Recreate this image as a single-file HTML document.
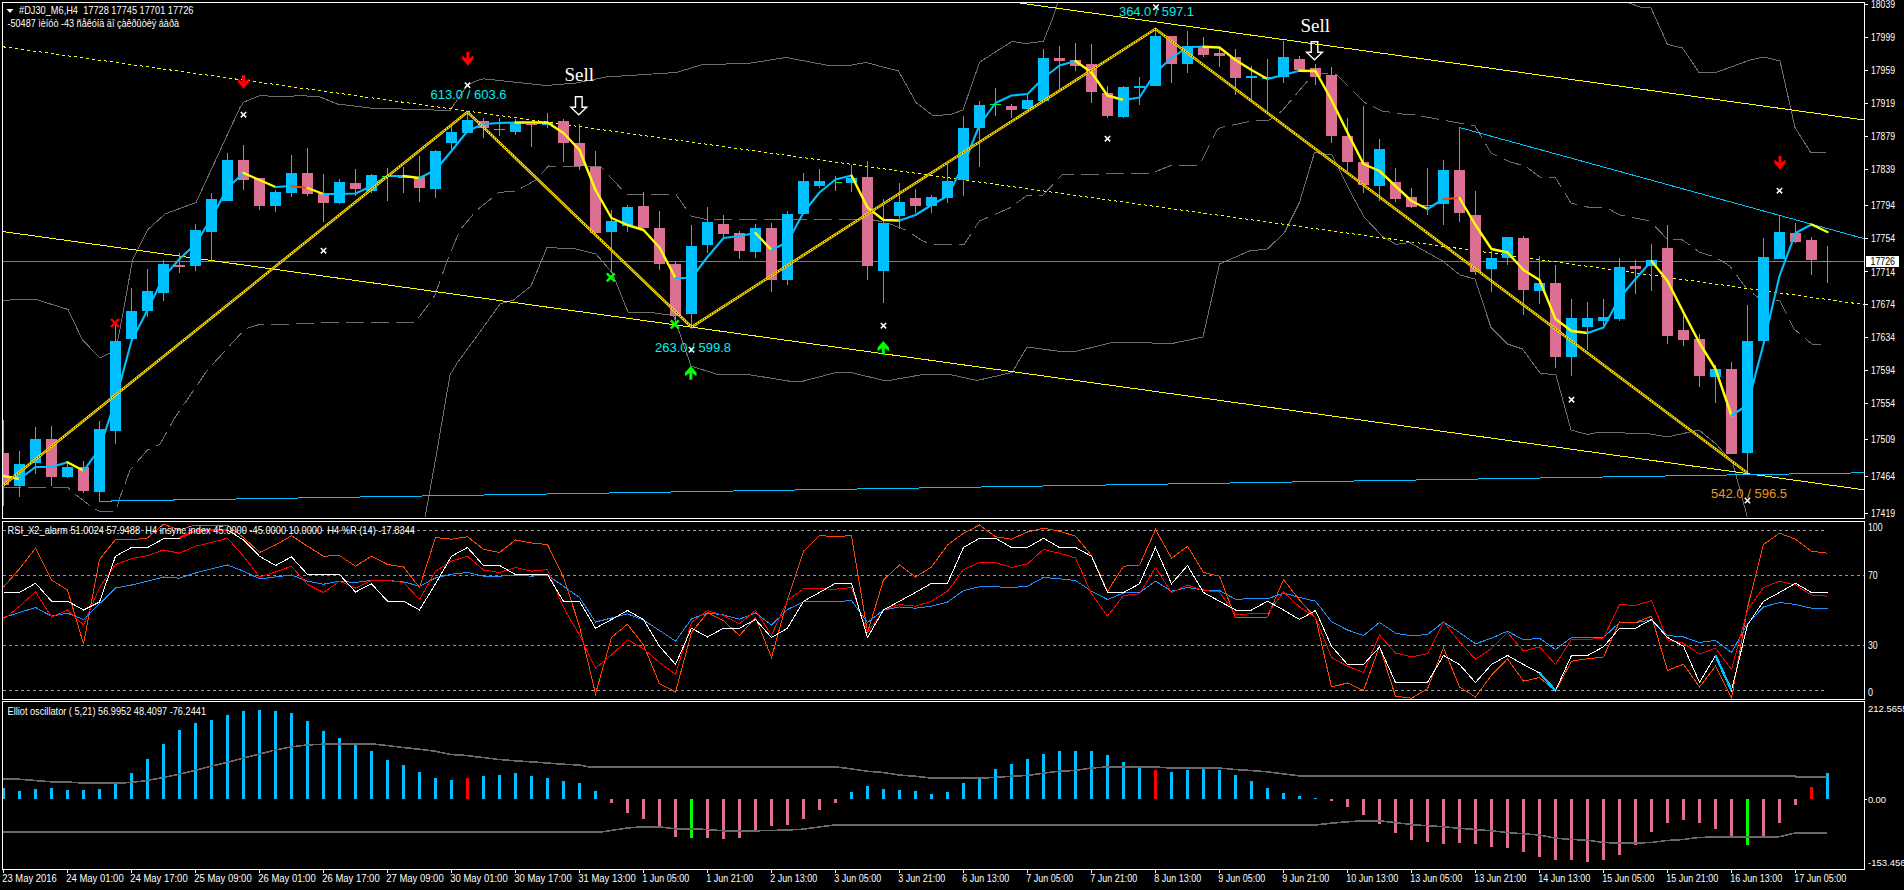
<!DOCTYPE html>
<html><head><meta charset="utf-8"><title>#DJ30_M6,H4</title><style>html,body{margin:0;padding:0;background:#000;overflow:hidden}</style></head><body>
<svg width="1904" height="890" viewBox="0 0 1904 890" style="display:block">
<rect width="1904" height="890" fill="#000"/>
<defs><clipPath id="cm"><rect x="3" y="3" width="1861" height="515"/></clipPath><clipPath id="c1"><rect x="3" y="522" width="1861" height="177"/></clipPath><clipPath id="c2"><rect x="3" y="702" width="1861" height="167"/></clipPath></defs>
<g clip-path="url(#cm)">
<polyline points="3.0,301.0 15.0,299.4 36.0,299.4 68.0,309.5 82.5,340.0 100.0,358.0 116.0,350.0 125.0,302.0 132.5,260.0 147.5,230.0 165.0,214.0 196.0,202.5 240.0,107.5 244.0,102.0 260.0,95.5 282.5,97.0 300.0,95.5 320.0,97.0 337.5,104.0 370.0,108.0 450.0,110.5 467.5,85.0 476.0,81.0 483.5,78.8 546.0,85.5 576.0,83.0 606.0,77.0 676.0,72.5 701.0,65.0 751.0,63.0 786.0,57.5 826.0,65.0 846.0,66.0 866.0,62.5 898.5,71.0 916.0,102.5 933.5,116.0 952.0,114.0 963.0,110.0 979.6,62.2 1012.0,41.4 1025.7,43.6 1043.3,41.4 1052.0,20.0 1058.0,2.5" fill="none" stroke="#6e6e6e" stroke-width="1" shape-rendering="crispEdges"/>
<polyline points="1629.0,3.0 1640.0,7.0 1651.0,8.0 1667.5,44.5 1682.5,48.0 1699.0,72.5 1716.0,72.5 1750.0,60.0 1764.0,57.0 1780.0,61.0 1795.0,127.5 1811.0,153.0 1826.0,152.0" fill="none" stroke="#6e6e6e" stroke-width="1" shape-rendering="crispEdges"/>
<polyline points="425.0,517.5 435.0,462.5 450.0,375.0 457.5,362.5 476.0,337.5 500.0,304.0 513.5,300.0 531.0,286.0 547.0,247.5 576.0,249.0 596.0,254.0 612.0,272.5 628.0,312.0 651.0,312.5 673.5,315.5 691.0,366.0 716.0,374.0 751.0,375.0 788.5,381.0 803.5,381.0 836.0,372.5 851.0,372.5 886.0,381.0 926.0,374.0 952.0,375.0 977.0,380.5 1012.0,372.5 1027.0,347.0 1057.0,351.0 1077.0,351.0 1114.5,342.0 1142.0,342.0 1152.0,343.0 1174.5,343.0 1203.0,337.0 1219.5,264.0 1249.5,251.0 1267.5,249.0 1284.5,232.5 1299.5,202.5 1314.5,152.5 1332.0,155.0 1352.0,195.0 1364.5,217.5 1382.0,236.0 1396.0,244.5 1409.5,242.5 1442.5,261.0 1460.0,275.0 1475.0,279.0 1491.0,327.5 1507.5,344.0 1522.5,349.0 1540.0,373.0 1556.0,375.0 1571.0,430.0 1587.5,434.5 1600.0,432.0 1650.0,434.0 1667.5,437.0 1699.0,430.0 1716.0,444.0 1732.5,462.5 1747.5,517.5" fill="none" stroke="#6e6e6e" stroke-width="1" shape-rendering="crispEdges"/>
<polyline points="3.0,487.7 68.0,487.7 75.5,494.4 93.0,508.0 99.0,511.0 116.0,511.0 119.0,500.0 130.0,470.0 147.5,450.0 160.0,444.0 175.0,417.5 207.5,370.0 245.0,329.0 257.5,325.0 337.5,322.5 415.0,322.5 430.0,302.5 435.0,295.0 447.5,260.0 460.0,230.0 476.0,211.0 498.5,192.5 516.0,191.0 536.0,180.0 548.5,166.0 601.0,167.0 626.0,194.0 676.0,194.5 691.0,216.0 706.0,219.5 871.0,219.5 886.0,222.5 906.0,230.0 921.0,240.0 931.0,244.5 964.0,244.5 979.5,221.0 1009.5,208.0 1027.0,195.5 1043.0,195.0 1057.0,180.0 1062.0,175.0 1152.0,173.0 1172.0,165.0 1199.5,165.0 1217.0,130.0 1221.0,127.5 1252.0,121.0 1269.5,120.0 1282.0,111.0 1314.5,72.5 1337.0,75.0 1364.5,102.5 1382.0,111.0 1402.0,114.0 1410.0,114.0 1475.0,126.0 1491.0,153.0 1510.0,162.0 1525.0,166.0 1540.0,177.0 1555.0,177.0 1571.0,203.0 1587.5,207.0 1605.0,207.0 1620.0,215.0 1650.0,221.0 1667.5,239.5 1682.5,240.0 1700.0,252.5 1715.0,257.0 1730.0,266.0 1746.0,288.0 1760.0,299.0 1780.0,301.0 1794.0,329.0 1812.5,344.5 1826.0,344.5" fill="none" stroke="#6e6e6e" stroke-width="1" stroke-dasharray="18 7" shape-rendering="crispEdges"/>
<rect x="3" y="261" width="1861" height="1" fill="#708090"/>
<line x1="3" y1="46.8" x2="1864" y2="304.6" stroke="#FFFF00" stroke-width="1" stroke-dasharray="3 3" shape-rendering="crispEdges"/>
<line x1="1018" y1="2.8" x2="1864" y2="120" stroke="#FFFF00" stroke-width="1" shape-rendering="crispEdges"/>
<line x1="3" y1="231.6" x2="1864" y2="489.8" stroke="#FFFF00" stroke-width="1" shape-rendering="crispEdges"/>
<polyline points="99.5,492 99.5,501.2 1864,472.8" fill="none" stroke="#00BFFF" stroke-width="1" shape-rendering="crispEdges"/>
<line x1="1459.5" y1="127.5" x2="1864" y2="238.6" stroke="#00BFFF" stroke-width="1" shape-rendering="crispEdges"/>
<g shape-rendering="crispEdges">
<rect x="3" y="420.0" width="1" height="86.0" fill="#DB7093"/>
<rect x="-2" y="453.0" width="11" height="32.0" fill="#DB7093"/>
<rect x="19" y="451.0" width="1" height="46.0" fill="#00BFFF"/>
<rect x="14" y="464.0" width="11" height="22.0" fill="#00BFFF"/>
<rect x="35" y="427.0" width="1" height="47.0" fill="#00BFFF"/>
<rect x="30" y="439.0" width="11" height="24.0" fill="#00BFFF"/>
<rect x="51" y="426.0" width="1" height="60.0" fill="#DB7093"/>
<rect x="46" y="439.0" width="11" height="38.0" fill="#DB7093"/>
<rect x="67" y="461.0" width="1" height="17.0" fill="#00BFFF"/>
<rect x="62" y="467.0" width="11" height="10.0" fill="#00BFFF"/>
<rect x="83" y="461.0" width="1" height="32.0" fill="#DB7093"/>
<rect x="78" y="467.0" width="11" height="24.0" fill="#DB7093"/>
<rect x="99" y="421.0" width="1" height="79.5" fill="#00BFFF"/>
<rect x="94" y="429.0" width="11" height="63.0" fill="#00BFFF"/>
<rect x="115" y="325.0" width="1" height="119.0" fill="#00BFFF"/>
<rect x="110" y="341.0" width="11" height="89.5" fill="#00BFFF"/>
<rect x="131" y="288.0" width="1" height="53.0" fill="#00BFFF"/>
<rect x="126" y="311.0" width="11" height="28.0" fill="#00BFFF"/>
<rect x="147" y="269.0" width="1" height="48.0" fill="#00BFFF"/>
<rect x="142" y="291.0" width="11" height="20.0" fill="#00BFFF"/>
<rect x="163" y="260.0" width="1" height="41.0" fill="#00BFFF"/>
<rect x="158" y="264.0" width="11" height="28.7" fill="#00BFFF"/>
<rect x="179" y="253.0" width="1" height="19.7" fill="#DB7093"/>
<rect x="174" y="264.5" width="11" height="2.5" fill="#DB7093"/>
<rect x="195" y="224.0" width="1" height="46.5" fill="#00BFFF"/>
<rect x="190" y="230.0" width="11" height="36.0" fill="#00BFFF"/>
<rect x="211" y="192.5" width="1" height="67.5" fill="#00BFFF"/>
<rect x="206" y="199.0" width="11" height="32.5" fill="#00BFFF"/>
<rect x="227" y="153.0" width="1" height="47.5" fill="#00BFFF"/>
<rect x="222" y="160.0" width="11" height="40.5" fill="#00BFFF"/>
<rect x="243" y="145.0" width="1" height="44.5" fill="#DB7093"/>
<rect x="238" y="160.0" width="11" height="19.5" fill="#DB7093"/>
<rect x="259" y="178.0" width="1" height="31.5" fill="#DB7093"/>
<rect x="254" y="178.0" width="11" height="27.5" fill="#DB7093"/>
<rect x="275" y="190.0" width="1" height="21.5" fill="#00BFFF"/>
<rect x="270" y="192.0" width="11" height="13.5" fill="#00BFFF"/>
<rect x="291" y="154.5" width="1" height="42.0" fill="#00BFFF"/>
<rect x="286" y="173.0" width="11" height="19.5" fill="#00BFFF"/>
<rect x="307" y="147.5" width="1" height="48.0" fill="#DB7093"/>
<rect x="302" y="173.0" width="11" height="21.0" fill="#DB7093"/>
<rect x="323" y="174.0" width="1" height="48.0" fill="#DB7093"/>
<rect x="318" y="192.5" width="11" height="10.0" fill="#DB7093"/>
<rect x="339" y="179.0" width="1" height="25.0" fill="#00BFFF"/>
<rect x="334" y="182.0" width="11" height="21.0" fill="#00BFFF"/>
<rect x="355" y="169.0" width="1" height="26.5" fill="#DB7093"/>
<rect x="350" y="183.0" width="11" height="6.0" fill="#DB7093"/>
<rect x="371" y="174.0" width="1" height="18.5" fill="#00BFFF"/>
<rect x="366" y="175.0" width="11" height="15.5" fill="#00BFFF"/>
<rect x="387" y="168.0" width="1" height="33.0" fill="#00FF00"/>
<rect x="382" y="176.0" width="11" height="1" fill="#00FF00"/>
<rect x="403" y="167.0" width="1" height="26.0" fill="#DB7093"/>
<rect x="398" y="176.0" width="11" height="1.5" fill="#DB7093"/>
<rect x="419" y="156.0" width="1" height="46.0" fill="#DB7093"/>
<rect x="414" y="177.0" width="11" height="11.0" fill="#DB7093"/>
<rect x="435" y="150.0" width="1" height="47.5" fill="#00BFFF"/>
<rect x="430" y="151.0" width="11" height="38.0" fill="#00BFFF"/>
<rect x="451" y="125.0" width="1" height="24.0" fill="#00BFFF"/>
<rect x="446" y="132.0" width="11" height="11.0" fill="#00BFFF"/>
<rect x="467" y="112.5" width="1" height="20.0" fill="#00BFFF"/>
<rect x="462" y="120.0" width="11" height="12.5" fill="#00BFFF"/>
<rect x="483" y="117.5" width="1" height="20.0" fill="#DB7093"/>
<rect x="478" y="120.5" width="11" height="7.5" fill="#DB7093"/>
<rect x="499" y="117.5" width="1" height="18.5" fill="#DB7093"/>
<rect x="494" y="129.0" width="11" height="1.0" fill="#DB7093"/>
<rect x="515" y="119.0" width="1" height="16.0" fill="#00BFFF"/>
<rect x="510" y="122.5" width="11" height="9.5" fill="#00BFFF"/>
<rect x="531" y="124.0" width="1" height="23.0" fill="#DB7093"/>
<rect x="526" y="124.0" width="11" height="1.0" fill="#DB7093"/>
<rect x="547" y="113.0" width="1" height="14.5" fill="#00BFFF"/>
<rect x="542" y="122.5" width="11" height="2.5" fill="#00BFFF"/>
<rect x="563" y="119.0" width="1" height="43.0" fill="#DB7093"/>
<rect x="558" y="121.0" width="11" height="21.5" fill="#DB7093"/>
<rect x="579" y="124.0" width="1" height="46.0" fill="#DB7093"/>
<rect x="574" y="143.0" width="11" height="23.0" fill="#DB7093"/>
<rect x="595" y="151.0" width="1" height="81.5" fill="#DB7093"/>
<rect x="590" y="167.0" width="11" height="65.5" fill="#DB7093"/>
<rect x="611" y="210.0" width="1" height="62.5" fill="#00BFFF"/>
<rect x="606" y="220.5" width="11" height="11.5" fill="#00BFFF"/>
<rect x="627" y="205.0" width="1" height="27.0" fill="#00BFFF"/>
<rect x="622" y="207.0" width="11" height="19.0" fill="#00BFFF"/>
<rect x="643" y="192.0" width="1" height="36.0" fill="#DB7093"/>
<rect x="638" y="206.0" width="11" height="22.0" fill="#DB7093"/>
<rect x="659" y="211.0" width="1" height="59.0" fill="#DB7093"/>
<rect x="654" y="228.0" width="11" height="36.0" fill="#DB7093"/>
<rect x="675" y="261.0" width="1" height="61.5" fill="#DB7093"/>
<rect x="670" y="264.0" width="11" height="51.5" fill="#DB7093"/>
<rect x="691" y="225.0" width="1" height="101.0" fill="#00BFFF"/>
<rect x="686" y="246.0" width="11" height="68.0" fill="#00BFFF"/>
<rect x="707" y="207.0" width="1" height="45.5" fill="#00BFFF"/>
<rect x="702" y="222.0" width="11" height="23.0" fill="#00BFFF"/>
<rect x="723" y="215.0" width="1" height="22.5" fill="#DB7093"/>
<rect x="718" y="224.0" width="11" height="10.0" fill="#DB7093"/>
<rect x="739" y="231.0" width="1" height="28.0" fill="#DB7093"/>
<rect x="734" y="232.5" width="11" height="18.5" fill="#DB7093"/>
<rect x="755" y="224.0" width="1" height="33.5" fill="#00BFFF"/>
<rect x="750" y="228.0" width="11" height="24.0" fill="#00BFFF"/>
<rect x="771" y="223.0" width="1" height="69.0" fill="#DB7093"/>
<rect x="766" y="228.0" width="11" height="52.0" fill="#DB7093"/>
<rect x="787" y="211.0" width="1" height="74.0" fill="#00BFFF"/>
<rect x="782" y="214.0" width="11" height="66.0" fill="#00BFFF"/>
<rect x="803" y="173.0" width="1" height="41.0" fill="#00BFFF"/>
<rect x="798" y="181.0" width="11" height="33.0" fill="#00BFFF"/>
<rect x="819" y="169.0" width="1" height="19.0" fill="#00BFFF"/>
<rect x="814" y="181.0" width="11" height="5.0" fill="#00BFFF"/>
<rect x="835" y="176.0" width="1" height="15.0" fill="#00FF00"/>
<rect x="835" y="182.0" width="7" height="1" fill="#00FF00"/>
<rect x="851" y="165.0" width="1" height="27.0" fill="#00BFFF"/>
<rect x="846" y="178.0" width="11" height="4.5" fill="#00BFFF"/>
<rect x="867" y="161.0" width="1" height="119.0" fill="#DB7093"/>
<rect x="862" y="177.0" width="11" height="89.0" fill="#DB7093"/>
<rect x="883" y="199.0" width="1" height="104.0" fill="#00BFFF"/>
<rect x="878" y="222.5" width="11" height="48.5" fill="#00BFFF"/>
<rect x="899" y="183.0" width="1" height="46.0" fill="#00BFFF"/>
<rect x="894" y="202.0" width="11" height="14.0" fill="#00BFFF"/>
<rect x="915" y="189.0" width="1" height="23.5" fill="#DB7093"/>
<rect x="910" y="198.0" width="11" height="8.0" fill="#DB7093"/>
<rect x="931" y="195.0" width="1" height="17.5" fill="#00BFFF"/>
<rect x="926" y="197.0" width="11" height="8.5" fill="#00BFFF"/>
<rect x="947" y="164.0" width="1" height="38.5" fill="#00BFFF"/>
<rect x="942" y="180.5" width="11" height="17.0" fill="#00BFFF"/>
<rect x="963" y="115.5" width="1" height="80.5" fill="#00BFFF"/>
<rect x="958" y="128.0" width="11" height="51.5" fill="#00BFFF"/>
<rect x="979" y="101.0" width="1" height="66.0" fill="#00BFFF"/>
<rect x="974" y="105.0" width="11" height="23.0" fill="#00BFFF"/>
<rect x="995" y="87.5" width="1" height="28.5" fill="#00FF00"/>
<rect x="990" y="104.0" width="11" height="1" fill="#00FF00"/>
<rect x="1011" y="104.0" width="1" height="13.5" fill="#DB7093"/>
<rect x="1006" y="106.0" width="11" height="4.0" fill="#DB7093"/>
<rect x="1027" y="94.5" width="1" height="14.5" fill="#00BFFF"/>
<rect x="1022" y="100.0" width="11" height="9.0" fill="#00BFFF"/>
<rect x="1043" y="49.0" width="1" height="52.0" fill="#00BFFF"/>
<rect x="1038" y="58.0" width="11" height="43.0" fill="#00BFFF"/>
<rect x="1059" y="46.0" width="1" height="43.0" fill="#DB7093"/>
<rect x="1054" y="57.5" width="11" height="3.5" fill="#DB7093"/>
<rect x="1075" y="43.0" width="1" height="28.0" fill="#DB7093"/>
<rect x="1070" y="59.5" width="11" height="6.0" fill="#DB7093"/>
<rect x="1091" y="44.0" width="1" height="59.0" fill="#DB7093"/>
<rect x="1086" y="64.0" width="11" height="28.0" fill="#DB7093"/>
<rect x="1107" y="86.0" width="1" height="32.0" fill="#DB7093"/>
<rect x="1102" y="93.0" width="11" height="23.0" fill="#DB7093"/>
<rect x="1123" y="85.5" width="1" height="32.0" fill="#00BFFF"/>
<rect x="1118" y="87.0" width="11" height="30.0" fill="#00BFFF"/>
<rect x="1139" y="77.0" width="1" height="28.0" fill="#00BFFF"/>
<rect x="1134" y="85.5" width="11" height="2.5" fill="#00BFFF"/>
<rect x="1155" y="28.0" width="1" height="58.0" fill="#00BFFF"/>
<rect x="1150" y="36.0" width="11" height="50.0" fill="#00BFFF"/>
<rect x="1171" y="36.0" width="1" height="47.0" fill="#DB7093"/>
<rect x="1166" y="36.0" width="11" height="28.0" fill="#DB7093"/>
<rect x="1187" y="31.0" width="1" height="42.0" fill="#00BFFF"/>
<rect x="1182" y="46.0" width="11" height="18.0" fill="#00BFFF"/>
<rect x="1203" y="37.0" width="1" height="20.0" fill="#DB7093"/>
<rect x="1198" y="46.0" width="11" height="9.0" fill="#DB7093"/>
<rect x="1219" y="49.0" width="1" height="18.0" fill="#DB7093"/>
<rect x="1214" y="53.0" width="11" height="2.5" fill="#DB7093"/>
<rect x="1235" y="49.0" width="1" height="46.0" fill="#DB7093"/>
<rect x="1230" y="57.0" width="11" height="21.0" fill="#DB7093"/>
<rect x="1251" y="66.0" width="1" height="35.0" fill="#00BFFF"/>
<rect x="1246" y="76.0" width="11" height="1.5" fill="#00BFFF"/>
<rect x="1267" y="59.0" width="1" height="52.0" fill="#00BFFF"/>
<rect x="1262" y="77.0" width="11" height="1.5" fill="#00BFFF"/>
<rect x="1283" y="41.0" width="1" height="42.0" fill="#00BFFF"/>
<rect x="1278" y="57.0" width="11" height="19.5" fill="#00BFFF"/>
<rect x="1299" y="56.0" width="1" height="13.5" fill="#DB7093"/>
<rect x="1294" y="59.0" width="11" height="10.5" fill="#DB7093"/>
<rect x="1315" y="64.0" width="1" height="21.0" fill="#DB7093"/>
<rect x="1310" y="68.0" width="11" height="9.0" fill="#DB7093"/>
<rect x="1331" y="67.0" width="1" height="76.0" fill="#DB7093"/>
<rect x="1326" y="75.0" width="11" height="61.0" fill="#DB7093"/>
<rect x="1347" y="118.0" width="1" height="53.0" fill="#DB7093"/>
<rect x="1342" y="136.0" width="11" height="26.0" fill="#DB7093"/>
<rect x="1363" y="106.0" width="1" height="87.0" fill="#DB7093"/>
<rect x="1358" y="162.0" width="11" height="23.0" fill="#DB7093"/>
<rect x="1379" y="139.0" width="1" height="62.0" fill="#00BFFF"/>
<rect x="1374" y="149.0" width="11" height="37.0" fill="#00BFFF"/>
<rect x="1395" y="168.0" width="1" height="34.0" fill="#DB7093"/>
<rect x="1390" y="182.0" width="11" height="17.0" fill="#DB7093"/>
<rect x="1411" y="187.5" width="1" height="20.0" fill="#DB7093"/>
<rect x="1406" y="197.0" width="11" height="10.0" fill="#DB7093"/>
<rect x="1427" y="167.5" width="1" height="47.5" fill="#00BFFF"/>
<rect x="1422" y="204.5" width="11" height="1.5" fill="#00BFFF"/>
<rect x="1443" y="160.0" width="1" height="65.0" fill="#00BFFF"/>
<rect x="1438" y="170.0" width="11" height="34.0" fill="#00BFFF"/>
<rect x="1459" y="127.5" width="1" height="94.5" fill="#DB7093"/>
<rect x="1454" y="170.0" width="11" height="43.0" fill="#DB7093"/>
<rect x="1475" y="191.0" width="1" height="84.0" fill="#DB7093"/>
<rect x="1470" y="215.0" width="11" height="57.0" fill="#DB7093"/>
<rect x="1491" y="251.0" width="1" height="41.0" fill="#00BFFF"/>
<rect x="1486" y="258.0" width="11" height="11.0" fill="#00BFFF"/>
<rect x="1507" y="237.0" width="1" height="28.0" fill="#00BFFF"/>
<rect x="1502" y="237.0" width="11" height="20.5" fill="#00BFFF"/>
<rect x="1523" y="235.5" width="1" height="79.5" fill="#DB7093"/>
<rect x="1518" y="238.0" width="11" height="52.0" fill="#DB7093"/>
<rect x="1539" y="256.0" width="1" height="48.0" fill="#00BFFF"/>
<rect x="1534" y="283.0" width="11" height="8.0" fill="#00BFFF"/>
<rect x="1555" y="265.0" width="1" height="102.5" fill="#DB7093"/>
<rect x="1550" y="283.0" width="11" height="74.0" fill="#DB7093"/>
<rect x="1571" y="299.0" width="1" height="77.0" fill="#00BFFF"/>
<rect x="1566" y="318.0" width="11" height="39.0" fill="#00BFFF"/>
<rect x="1587" y="302.0" width="1" height="47.5" fill="#00BFFF"/>
<rect x="1582" y="318.0" width="11" height="9.0" fill="#00BFFF"/>
<rect x="1603" y="299.0" width="1" height="26.0" fill="#00BFFF"/>
<rect x="1598" y="317.0" width="11" height="4.0" fill="#00BFFF"/>
<rect x="1619" y="258.0" width="1" height="63.0" fill="#00BFFF"/>
<rect x="1614" y="267.0" width="11" height="52.0" fill="#00BFFF"/>
<rect x="1635" y="260.0" width="1" height="34.0" fill="#DB7093"/>
<rect x="1630" y="266.0" width="11" height="3.0" fill="#DB7093"/>
<rect x="1651" y="244.0" width="1" height="47.0" fill="#00BFFF"/>
<rect x="1646" y="260.0" width="11" height="6.0" fill="#00BFFF"/>
<rect x="1667" y="225.0" width="1" height="119.0" fill="#DB7093"/>
<rect x="1662" y="248.0" width="11" height="88.0" fill="#DB7093"/>
<rect x="1683" y="315.0" width="1" height="31.0" fill="#DB7093"/>
<rect x="1678" y="330.0" width="11" height="10.0" fill="#DB7093"/>
<rect x="1699" y="334.0" width="1" height="53.0" fill="#DB7093"/>
<rect x="1694" y="339.0" width="11" height="37.0" fill="#DB7093"/>
<rect x="1715" y="364.5" width="1" height="38.5" fill="#00BFFF"/>
<rect x="1710" y="369.0" width="11" height="8.0" fill="#00BFFF"/>
<rect x="1731" y="362.0" width="1" height="92.0" fill="#DB7093"/>
<rect x="1726" y="369.0" width="11" height="85.0" fill="#DB7093"/>
<rect x="1747" y="305.0" width="1" height="167.5" fill="#00BFFF"/>
<rect x="1742" y="341.0" width="11" height="111.5" fill="#00BFFF"/>
<rect x="1763" y="238.0" width="1" height="102.5" fill="#00BFFF"/>
<rect x="1758" y="257.0" width="11" height="83.5" fill="#00BFFF"/>
<rect x="1779" y="215.0" width="1" height="44.0" fill="#00BFFF"/>
<rect x="1774" y="232.0" width="11" height="27.0" fill="#00BFFF"/>
<rect x="1795" y="223.0" width="1" height="19.5" fill="#DB7093"/>
<rect x="1790" y="233.0" width="11" height="9.0" fill="#DB7093"/>
<rect x="1811" y="237.0" width="1" height="38.0" fill="#DB7093"/>
<rect x="1806" y="240.0" width="11" height="20.0" fill="#DB7093"/>
<rect x="1827" y="246.0" width="1" height="37.0" fill="#DB7093"/>
<rect x="1822" y="260.5" width="11" height="1.0" fill="#DB7093"/>
</g>
<polyline points="3.5,476.0 19.5,479.0" fill="none" stroke="#FFFF00" stroke-width="2.4" stroke-linejoin="round" stroke-linecap="round"/>
<polyline points="19.5,479.0 35.5,467.0 51.5,467.0 67.5,462.3" fill="none" stroke="#00BFFF" stroke-width="2.1" stroke-linejoin="round" stroke-linecap="round"/>
<polyline points="67.5,462.3 83.5,470.8" fill="none" stroke="#FFFF00" stroke-width="2.4" stroke-linejoin="round" stroke-linecap="round"/>
<polyline points="83.5,470.8 99.5,449.0 115.5,400.0 131.5,341.0 147.5,310.0 163.5,277.0 179.5,259.0 195.5,244.0 211.5,218.0 227.5,188.0 243.5,173.0" fill="none" stroke="#00BFFF" stroke-width="2.1" stroke-linejoin="round" stroke-linecap="round"/>
<polyline points="243.5,173.0 259.5,180.0 275.5,187.0" fill="none" stroke="#FFFF00" stroke-width="2.4" stroke-linejoin="round" stroke-linecap="round"/>
<polyline points="275.5,187.0 291.5,186.0" fill="none" stroke="#00BFFF" stroke-width="2.1" stroke-linejoin="round" stroke-linecap="round"/>
<polyline points="291.5,186.0 307.5,188.0" fill="none" stroke="#FF4500" stroke-width="2.1" stroke-linejoin="round" stroke-linecap="round"/>
<polyline points="307.5,188.0 323.5,194.0" fill="none" stroke="#FFFF00" stroke-width="2.4" stroke-linejoin="round" stroke-linecap="round"/>
<polyline points="323.5,194.0 339.5,194.0 355.5,193.5 371.5,186.0 387.5,176.0 403.5,176.0" fill="none" stroke="#00BFFF" stroke-width="2.1" stroke-linejoin="round" stroke-linecap="round"/>
<polyline points="403.5,176.0 419.5,178.0" fill="none" stroke="#FFFF00" stroke-width="2.4" stroke-linejoin="round" stroke-linecap="round"/>
<polyline points="419.5,178.0 435.5,170.0 451.5,151.0 467.5,131.0 483.5,124.0 499.5,123.0 515.5,122.5" fill="none" stroke="#00BFFF" stroke-width="2.1" stroke-linejoin="round" stroke-linecap="round"/>
<polyline points="515.5,122.5 531.5,122.5 547.5,122.5 563.5,133.0 579.5,150.0 595.5,190.0 611.5,218.0 627.5,225.0 643.5,230.0 659.5,247.5 675.5,278.0" fill="none" stroke="#FFFF00" stroke-width="2.4" stroke-linejoin="round" stroke-linecap="round"/>
<polyline points="675.5,278.0 691.5,278.0 707.5,257.0 723.5,238.0 739.5,236.0 755.5,233.0" fill="none" stroke="#00BFFF" stroke-width="2.1" stroke-linejoin="round" stroke-linecap="round"/>
<polyline points="755.5,233.0 771.5,250.0" fill="none" stroke="#FFFF00" stroke-width="2.4" stroke-linejoin="round" stroke-linecap="round"/>
<polyline points="771.5,250.0 787.5,242.0 803.5,212.5 819.5,192.5 835.5,179.5 851.5,175.5" fill="none" stroke="#00BFFF" stroke-width="2.1" stroke-linejoin="round" stroke-linecap="round"/>
<polyline points="851.5,175.5 867.5,207.5 883.5,220.0 899.5,220.5" fill="none" stroke="#FFFF00" stroke-width="2.4" stroke-linejoin="round" stroke-linecap="round"/>
<polyline points="899.5,220.5 915.5,215.0 931.5,205.0 947.5,196.0 963.5,165.0 979.5,125.0 995.5,103.0 1011.5,95.5 1027.5,94.0 1043.5,78.0 1059.5,65.5 1075.5,61.0" fill="none" stroke="#00BFFF" stroke-width="2.1" stroke-linejoin="round" stroke-linecap="round"/>
<polyline points="1075.5,61.0 1091.5,72.5 1107.5,95.5 1123.5,100.0" fill="none" stroke="#FFFF00" stroke-width="2.4" stroke-linejoin="round" stroke-linecap="round"/>
<polyline points="1123.5,100.0 1139.5,97.5 1155.5,72.5 1171.5,58.0 1187.5,47.0 1203.5,46.8" fill="none" stroke="#00BFFF" stroke-width="2.1" stroke-linejoin="round" stroke-linecap="round"/>
<polyline points="1203.5,46.8 1219.5,47.5 1235.5,60.0 1251.5,70.0 1267.5,79.0" fill="none" stroke="#FFFF00" stroke-width="2.4" stroke-linejoin="round" stroke-linecap="round"/>
<polyline points="1267.5,79.0 1283.5,75.0 1299.5,70.7" fill="none" stroke="#00BFFF" stroke-width="2.1" stroke-linejoin="round" stroke-linecap="round"/>
<polyline points="1299.5,70.7 1315.5,71.0 1331.5,100.0 1347.5,132.5 1363.5,164.0 1379.5,171.0 1395.5,186.0 1411.5,201.0 1427.5,209.0" fill="none" stroke="#FFFF00" stroke-width="2.4" stroke-linejoin="round" stroke-linecap="round"/>
<polyline points="1427.5,209.0 1443.5,199.0" fill="none" stroke="#00BFFF" stroke-width="2.1" stroke-linejoin="round" stroke-linecap="round"/>
<polyline points="1443.5,199.0 1459.5,198.0" fill="none" stroke="#FF4500" stroke-width="2.1" stroke-linejoin="round" stroke-linecap="round"/>
<polyline points="1459.5,198.0 1475.5,225.0 1491.5,249.0 1507.5,252.5 1523.5,270.0 1539.5,280.0 1555.5,319.0 1571.5,331.0 1587.5,333.0" fill="none" stroke="#FFFF00" stroke-width="2.4" stroke-linejoin="round" stroke-linecap="round"/>
<polyline points="1587.5,333.0 1603.5,327.5 1619.5,298.0 1635.5,279.0 1651.5,261.0" fill="none" stroke="#00BFFF" stroke-width="2.1" stroke-linejoin="round" stroke-linecap="round"/>
<polyline points="1651.5,261.0 1667.5,281.0 1683.5,312.5 1699.5,343.0 1715.5,369.0 1731.5,415.5" fill="none" stroke="#FFFF00" stroke-width="2.4" stroke-linejoin="round" stroke-linecap="round"/>
<polyline points="1731.5,415.5 1747.5,405.0 1763.5,344.0 1779.5,276.0 1795.5,233.0 1811.5,224.5" fill="none" stroke="#00BFFF" stroke-width="2.1" stroke-linejoin="round" stroke-linecap="round"/>
<polyline points="1811.5,224.5 1827.5,232.0" fill="none" stroke="#FFFF00" stroke-width="2.4" stroke-linejoin="round" stroke-linecap="round"/>
<polyline points="3.0,485.5 467.5,112.0 691.5,327.0 1155.5,29.0 1747.5,473.0" fill="none" stroke="#FFDC00" stroke-width="2.6" stroke-linejoin="miter"/>
<polyline points="3.0,485.5 467.5,112.0 691.5,327.0 1155.5,29.0 1747.5,473.0" fill="none" stroke="#000" stroke-width="1.0" stroke-dasharray="1.3 1.5"/>
</g>
<path d="M240.8 112.0 l5.4 5.4 M246.2 112.0 l-5.4 5.4" stroke="#fff" stroke-width="1.5" fill="none"/>
<path d="M320.8 248.0 l5.4 5.4 M326.2 248.0 l-5.4 5.4" stroke="#fff" stroke-width="1.5" fill="none"/>
<path d="M464.8 82.5 l5.4 5.4 M470.2 82.5 l-5.4 5.4" stroke="#fff" stroke-width="1.5" fill="none"/>
<path d="M688.8 347.0 l5.4 5.4 M694.2 347.0 l-5.4 5.4" stroke="#fff" stroke-width="1.5" fill="none"/>
<path d="M880.8 323.0 l5.4 5.4 M886.2 323.0 l-5.4 5.4" stroke="#fff" stroke-width="1.5" fill="none"/>
<path d="M1104.8 136.0 l5.4 5.4 M1110.2 136.0 l-5.4 5.4" stroke="#fff" stroke-width="1.5" fill="none"/>
<path d="M1153.3 4.5 l5.4 5.4 M1158.7 4.5 l-5.4 5.4" stroke="#fff" stroke-width="1.5" fill="none"/>
<path d="M1568.8 397.0 l5.4 5.4 M1574.2 397.0 l-5.4 5.4" stroke="#fff" stroke-width="1.5" fill="none"/>
<path d="M1744.8 497.8 l5.4 5.4 M1750.2 497.8 l-5.4 5.4" stroke="#fff" stroke-width="1.5" fill="none"/>
<path d="M1776.8 188.0 l5.4 5.4 M1782.2 188.0 l-5.4 5.4" stroke="#fff" stroke-width="1.5" fill="none"/>
<path d="M111.0 319.0 l8.0 8.0 M119.0 319.0 l-8.0 8.0" stroke="#FF0000" stroke-width="2.4" fill="none"/>
<path d="M606.8 273.3 l8.0 8.0 M614.8 273.3 l-8.0 8.0" stroke="#00FF00" stroke-width="2.5" fill="none"/>
<path d="M670.8 320.3 l8.0 8.0 M678.8 320.3 l-8.0 8.0" stroke="#00FF00" stroke-width="2.5" fill="none"/>
<path d="M242.0 75.0 h3 v6.5 l4.2 -3 v3.6 l-5.7 6.6 l-5.7 -6.6 v-3.6 l4.2 3 z" fill="#FF0000"/>
<path d="M466.3 52.0 h3 v6.5 l4.2 -3 v3.6 l-5.7 6.6 l-5.7 -6.6 v-3.6 l4.2 3 z" fill="#FF0000"/>
<path d="M1778.5 156.0 h3 v6.5 l4.2 -3 v3.6 l-5.7 6.6 l-5.7 -6.6 v-3.6 l4.2 3 z" fill="#FF0000"/>
<path d="M690.8 366.0 l5.7 6.6 v3.6 l-4.2 -3 v6.5 h-3 v-6.5 l-4.2 3 v-3.6 z" fill="#00FF00"/>
<path d="M883.3 341.0 l5.7 6.6 v3.6 l-4.2 -3 v6.5 h-3 v-6.5 l-4.2 3 v-3.6 z" fill="#00FF00"/>
<path d="M575.5 96.8 h6.6 v10.4 h4.6 l-7.9 7.6 l-7.9 -7.6 h4.6 z" fill="none" stroke="#fff" stroke-width="1.4"/>
<path d="M1311.2 41.8 h6.6 v10.4 h4.6 l-7.9 7.6 l-7.9 -7.6 h4.6 z" fill="none" stroke="#fff" stroke-width="1.4"/>
<text x="564.5" y="81" font-family="Liberation Serif, Times New Roman, serif" font-size="19" fill="#fff">Sell</text>
<text x="1300.5" y="31.5" font-family="Liberation Serif, Times New Roman, serif" font-size="19" fill="#fff">Sell</text>
<text x="430.5" y="99" font-family="Liberation Sans, Arial, sans-serif" font-size="13" fill="#00F0F0" textLength="76">613.0 / 603.6</text>
<text x="655" y="352" font-family="Liberation Sans, Arial, sans-serif" font-size="13" fill="#00F0F0" textLength="76">263.0 / 599.8</text>
<text x="1119" y="16" font-family="Liberation Sans, Arial, sans-serif" font-size="13" fill="#00F0F0" textLength="75">364.0 / 597.1</text>
<text x="1711" y="498" font-family="Liberation Sans, Arial, sans-serif" font-size="13" fill="#EE9A10" textLength="76">542.0 / 596.5</text>
<path d="M6.5 9 h7 l-3.5 4 z" fill="#fff"/>
<text x="19" y="14" font-family="Liberation Sans, Arial, sans-serif" font-size="10.5" fill="#fff" textLength="174.5" lengthAdjust="spacingAndGlyphs" xml:space="preserve">#DJ30_M6,H4  17728 17745 17701 17726</text>
<text x="7.5" y="27" font-family="Liberation Sans, Arial, sans-serif" font-size="10.5" fill="#fff" textLength="171.5" lengthAdjust="spacingAndGlyphs">-50487 ìèíóò -43 ñåêóíä äî çàêðûòèÿ áàðà</text>
<g clip-path="url(#c1)">
<g shape-rendering="crispEdges">
<line x1="3" y1="530.5" x2="1826" y2="530.5" stroke="#a0a0a0" stroke-width="1" stroke-dasharray="3 3"/>
<line x1="3" y1="690.5" x2="1826" y2="690.5" stroke="#a0a0a0" stroke-width="1" stroke-dasharray="3 3"/>
<line x1="3" y1="575.5" x2="1864" y2="575.5" stroke="#CD853F" stroke-width="1" stroke-dasharray="3 3"/>
<line x1="3" y1="645.5" x2="1864" y2="645.5" stroke="#CD853F" stroke-width="1" stroke-dasharray="3 3"/>
</g>
<polyline points="3.5,617.5 19.5,612.5 35.5,607.5 51.5,616.2 67.5,613.2 83.5,619.5 99.5,603.8 115.5,588.0 131.5,585.0 147.5,581.2 163.5,577.0 179.5,578.2 195.5,573.0 211.5,568.8 227.5,565.0 243.5,571.2 259.5,578.8 275.5,577.0 291.5,575.0 307.5,581.2 323.5,584.2 339.5,581.2 355.5,582.5 371.5,580.5 387.5,580.5 403.5,581.8 419.5,586.2 435.5,578.0 451.5,574.2 467.5,572.5 483.5,576.2 499.5,576.2 515.5,575.0 531.5,576.2 547.5,575.0 563.5,586.2 579.5,597.5 595.5,622.0 611.5,618.0 627.5,613.8 643.5,620.0 659.5,630.5 675.5,641.2 691.5,618.8 707.5,613.0 723.5,615.0 739.5,619.2 755.5,613.0 771.5,625.0 787.5,609.5 803.5,601.8 819.5,601.8 835.5,601.8 851.5,600.5 867.5,622.5 883.5,610.0 899.5,607.0 915.5,608.2 931.5,606.2 947.5,602.0 963.5,590.5 979.5,586.8 995.5,586.8 1011.5,587.5 1027.5,586.2 1043.5,577.5 1059.5,578.8 1075.5,580.5 1091.5,591.2 1107.5,599.5 1123.5,593.0 1139.5,592.5 1155.5,581.2 1171.5,591.2 1187.5,587.5 1203.5,590.0 1219.5,590.5 1235.5,599.2 1251.5,598.8 1267.5,598.8 1283.5,593.0 1299.5,597.5 1315.5,601.2 1331.5,621.8 1347.5,630.0 1363.5,635.5 1379.5,622.5 1395.5,633.2 1411.5,635.8 1427.5,634.5 1443.5,622.0 1459.5,632.5 1475.5,643.8 1491.5,638.2 1507.5,631.2 1523.5,640.0 1539.5,638.2 1555.5,649.5 1571.5,637.5 1587.5,637.5 1603.5,637.5 1619.5,622.5 1635.5,622.5 1651.5,620.0 1667.5,635.5 1683.5,637.0 1699.5,642.5 1715.5,640.5 1731.5,652.5 1747.5,623.8 1763.5,607.0 1779.5,602.5 1795.5,604.5 1811.5,608.2 1827.5,608.2" fill="none" stroke="#1E90FF" stroke-width="1" shape-rendering="crispEdges"/>
<polyline points="3.5,587.0 19.5,568.8 35.5,548.2 51.5,580.0 67.5,590.0 83.5,643.8 99.5,559.5 115.5,539.5 131.5,540.0 147.5,538.0 163.5,524.2 179.5,530.0 195.5,525.0 211.5,525.0 227.5,525.0 243.5,537.5 259.5,552.5 275.5,545.0 291.5,535.8 307.5,546.2 323.5,556.2 339.5,555.5 355.5,566.2 371.5,556.2 387.5,564.5 403.5,567.0 419.5,587.5 435.5,537.5 451.5,539.2 467.5,536.8 483.5,549.2 499.5,552.5 515.5,540.0 531.5,543.0 547.5,544.5 563.5,577.5 579.5,626.2 595.5,693.8 611.5,637.5 627.5,624.2 643.5,645.0 659.5,683.8 675.5,692.0 691.5,632.5 707.5,612.5 723.5,620.8 739.5,635.5 755.5,617.5 771.5,657.5 787.5,600.0 803.5,551.2 819.5,535.5 835.5,536.8 851.5,535.5 867.5,632.5 883.5,580.0 899.5,565.0 915.5,577.0 931.5,567.0 947.5,545.0 963.5,533.2 979.5,525.0 995.5,536.8 1011.5,539.2 1027.5,532.0 1043.5,528.2 1059.5,531.2 1075.5,536.2 1091.5,555.5 1107.5,591.2 1123.5,566.2 1139.5,565.0 1155.5,529.5 1171.5,558.2 1187.5,546.2 1203.5,572.5 1219.5,576.2 1235.5,618.0 1251.5,617.5 1267.5,617.0 1283.5,579.5 1299.5,600.0 1315.5,617.5 1331.5,687.0 1347.5,683.0 1363.5,690.5 1379.5,646.2 1395.5,696.2 1411.5,698.2 1427.5,688.8 1443.5,647.5 1459.5,687.0 1475.5,697.0 1491.5,675.0 1507.5,658.8 1523.5,681.2 1539.5,677.5 1555.5,691.2 1571.5,661.2 1587.5,658.8 1603.5,657.0 1619.5,622.0 1635.5,622.5 1651.5,616.2 1667.5,670.5 1683.5,664.2 1699.5,687.0 1715.5,666.2 1731.5,698.2 1747.5,607.5 1763.5,544.5 1779.5,533.2 1795.5,539.2 1811.5,551.2 1827.5,553.2" fill="none" stroke="#FF4500" stroke-width="1" shape-rendering="crispEdges"/>
<polyline points="3.5,619.5 19.5,606.2 35.5,591.8 51.5,617.0 67.5,610.0 83.5,625.0 99.5,587.5 115.5,564.5 131.5,558.8 147.5,555.5 163.5,550.0 179.5,553.2 195.5,546.2 211.5,542.5 227.5,538.2 243.5,556.2 259.5,577.0 275.5,572.0 291.5,566.2 307.5,584.5 323.5,592.5 339.5,581.2 355.5,588.0 371.5,580.5 387.5,580.5 403.5,582.5 419.5,599.5 435.5,571.2 451.5,561.2 467.5,556.2 483.5,570.0 499.5,572.5 515.5,567.5 531.5,571.2 547.5,569.5 563.5,607.5 579.5,635.0 595.5,668.2 611.5,655.0 627.5,639.5 643.5,648.8 659.5,662.5 675.5,674.2 691.5,622.5 707.5,610.5 723.5,615.5 739.5,623.8 755.5,610.5 771.5,635.0 787.5,600.5 803.5,588.8 819.5,588.8 835.5,589.2 851.5,587.5 867.5,632.5 883.5,610.0 899.5,604.5 915.5,606.2 931.5,601.2 947.5,591.2 963.5,569.5 979.5,562.5 995.5,562.5 1011.5,567.5 1027.5,563.8 1043.5,549.5 1059.5,553.2 1075.5,558.0 1091.5,593.8 1107.5,616.2 1123.5,595.5 1139.5,593.8 1155.5,567.5 1171.5,592.5 1187.5,585.0 1203.5,590.5 1219.5,592.0 1235.5,614.5 1251.5,613.8 1267.5,613.8 1283.5,592.0 1299.5,607.0 1315.5,617.5 1331.5,657.5 1347.5,666.2 1363.5,672.5 1379.5,635.0 1395.5,653.0 1411.5,656.8 1427.5,653.8 1443.5,621.8 1459.5,641.8 1475.5,659.2 1491.5,648.8 1507.5,632.5 1523.5,651.2 1539.5,646.8 1555.5,664.5 1571.5,639.5 1587.5,639.5 1603.5,638.0 1619.5,604.5 1635.5,605.5 1651.5,600.5 1667.5,640.0 1683.5,643.2 1699.5,654.2 1715.5,648.2 1731.5,669.5 1747.5,610.0 1763.5,587.5 1779.5,581.2 1795.5,585.0 1811.5,595.0 1827.5,596.2" fill="none" stroke="#FF0000" stroke-width="1" shape-rendering="crispEdges"/>
<polyline points="3.5,592.5 19.5,592.5 35.5,583.2 51.5,601.2 67.5,601.2 83.5,610.0 99.5,602.0 115.5,556.2 131.5,547.5 147.5,547.5 163.5,538.8 179.5,538.8 195.5,530.0 211.5,530.0 227.5,530.0 243.5,540.0 259.5,556.2 275.5,565.5 291.5,556.8 307.5,574.5 323.5,574.5 339.5,574.5 355.5,592.0 371.5,583.8 387.5,601.2 403.5,601.2 419.5,610.0 435.5,583.8 451.5,556.2 467.5,547.5 483.5,565.5 499.5,565.5 515.5,574.5 531.5,574.5 547.5,574.5 563.5,601.2 579.5,601.2 595.5,628.2 611.5,619.5 627.5,610.5 643.5,619.5 659.5,646.2 675.5,664.5 691.5,628.2 707.5,637.0 723.5,628.2 739.5,628.2 755.5,619.5 771.5,637.5 787.5,628.2 803.5,601.2 819.5,592.5 835.5,583.2 851.5,583.2 867.5,637.5 883.5,610.0 899.5,601.2 915.5,592.5 931.5,583.2 947.5,583.2 963.5,547.5 979.5,538.2 995.5,538.2 1011.5,547.5 1027.5,547.5 1043.5,538.2 1059.5,547.5 1075.5,547.5 1091.5,556.2 1107.5,592.5 1123.5,592.5 1139.5,583.8 1155.5,547.5 1171.5,583.8 1187.5,565.5 1203.5,592.5 1219.5,601.2 1235.5,610.0 1251.5,610.0 1267.5,601.2 1283.5,610.0 1299.5,619.5 1315.5,610.5 1331.5,646.2 1347.5,664.5 1363.5,664.5 1379.5,647.0 1395.5,682.5 1411.5,682.5 1427.5,682.5 1443.5,655.5 1459.5,664.5 1475.5,682.5 1491.5,664.5 1507.5,655.5 1523.5,664.5 1539.5,673.0 1555.5,690.5 1571.5,655.5 1587.5,655.5 1603.5,646.8 1619.5,628.2 1635.5,628.2 1651.5,619.5 1667.5,637.5 1683.5,646.2 1699.5,682.5 1715.5,655.5 1731.5,690.5 1747.5,625.0 1763.5,601.2 1779.5,592.5 1795.5,583.2 1811.5,592.5 1827.5,592.5" fill="none" stroke="#FFFFFF" stroke-width="1" shape-rendering="crispEdges"/>
<polyline points="179.5,538.0 195.5,530.5 227.5,530.0" fill="none" stroke="#FF0000" stroke-width="2.4" shape-rendering="crispEdges"/>
<polyline points="1539.5,673.0 1555.5,690.5" fill="none" stroke="#00BFFF" stroke-width="2.4" shape-rendering="crispEdges"/>
<polyline points="1715.5,655.5 1731.5,690.5" fill="none" stroke="#00BFFF" stroke-width="2.4" shape-rendering="crispEdges"/>
</g>
<text x="7.5" y="533.5" font-family="Liberation Sans, Arial, sans-serif" font-size="10.5" fill="#fff" textLength="407.5" lengthAdjust="spacingAndGlyphs" xml:space="preserve">RSI_X2_alarm 51.0024 57.9488  H4 insync index 45.0000 -45.0000 10.0000  H4 %R (14) -17.8344</text>
<g clip-path="url(#c2)">
<g shape-rendering="crispEdges">
<rect x="2" y="788.0" width="3" height="11.0" fill="#00BFFF"/>
<rect x="18" y="791.2" width="3" height="7.8" fill="#00BFFF"/>
<rect x="34" y="789.2" width="3" height="9.8" fill="#00BFFF"/>
<rect x="50" y="788.0" width="3" height="11.0" fill="#00BFFF"/>
<rect x="66" y="790.0" width="3" height="9.0" fill="#00BFFF"/>
<rect x="82" y="790.0" width="3" height="9.0" fill="#00BFFF"/>
<rect x="98" y="789.2" width="3" height="9.8" fill="#00BFFF"/>
<rect x="114" y="784.2" width="3" height="14.8" fill="#00BFFF"/>
<rect x="130" y="773.2" width="3" height="25.8" fill="#00BFFF"/>
<rect x="146" y="759.2" width="3" height="39.8" fill="#00BFFF"/>
<rect x="162" y="744.2" width="3" height="54.8" fill="#00BFFF"/>
<rect x="178" y="730.0" width="3" height="69.0" fill="#00BFFF"/>
<rect x="194" y="723.0" width="3" height="76.0" fill="#00BFFF"/>
<rect x="210" y="720.0" width="3" height="79.0" fill="#00BFFF"/>
<rect x="226" y="715.0" width="3" height="84.0" fill="#00BFFF"/>
<rect x="242" y="711.2" width="3" height="87.8" fill="#00BFFF"/>
<rect x="258" y="710.0" width="3" height="89.0" fill="#00BFFF"/>
<rect x="274" y="711.2" width="3" height="87.8" fill="#00BFFF"/>
<rect x="290" y="713.0" width="3" height="86.0" fill="#00BFFF"/>
<rect x="306" y="721.2" width="3" height="77.8" fill="#00BFFF"/>
<rect x="322" y="731.2" width="3" height="67.8" fill="#00BFFF"/>
<rect x="338" y="738.0" width="3" height="61.0" fill="#00BFFF"/>
<rect x="354" y="744.2" width="3" height="54.8" fill="#00BFFF"/>
<rect x="370" y="751.2" width="3" height="47.8" fill="#00BFFF"/>
<rect x="386" y="760.0" width="3" height="39.0" fill="#00BFFF"/>
<rect x="402" y="765.0" width="3" height="34.0" fill="#00BFFF"/>
<rect x="418" y="772.0" width="3" height="27.0" fill="#00BFFF"/>
<rect x="434" y="778.0" width="3" height="21.0" fill="#00BFFF"/>
<rect x="450" y="780.0" width="3" height="19.0" fill="#00BFFF"/>
<rect x="466" y="778.0" width="3" height="21.0" fill="#FF0000"/>
<rect x="482" y="776.2" width="3" height="22.8" fill="#00BFFF"/>
<rect x="498" y="775.0" width="3" height="24.0" fill="#00BFFF"/>
<rect x="514" y="773.2" width="3" height="25.8" fill="#00BFFF"/>
<rect x="530" y="776.2" width="3" height="22.8" fill="#00BFFF"/>
<rect x="546" y="778.0" width="3" height="21.0" fill="#00BFFF"/>
<rect x="562" y="781.2" width="3" height="17.8" fill="#00BFFF"/>
<rect x="578" y="783.0" width="3" height="16.0" fill="#00BFFF"/>
<rect x="594" y="791.2" width="3" height="7.8" fill="#00BFFF"/>
<rect x="610" y="799.0" width="3" height="3.5" fill="#DB7093"/>
<rect x="626" y="799.0" width="3" height="13.5" fill="#DB7093"/>
<rect x="642" y="799.0" width="3" height="19.8" fill="#DB7093"/>
<rect x="658" y="799.0" width="3" height="29.2" fill="#DB7093"/>
<rect x="674" y="799.0" width="3" height="37.8" fill="#DB7093"/>
<rect x="690" y="799.0" width="3" height="38.5" fill="#00FF00"/>
<rect x="706" y="799.0" width="3" height="38.5" fill="#DB7093"/>
<rect x="722" y="799.0" width="3" height="39.8" fill="#DB7093"/>
<rect x="738" y="799.0" width="3" height="38.5" fill="#DB7093"/>
<rect x="754" y="799.0" width="3" height="31.0" fill="#DB7093"/>
<rect x="770" y="799.0" width="3" height="26.8" fill="#DB7093"/>
<rect x="786" y="799.0" width="3" height="26.0" fill="#DB7093"/>
<rect x="802" y="799.0" width="3" height="19.8" fill="#DB7093"/>
<rect x="818" y="799.0" width="3" height="10.5" fill="#DB7093"/>
<rect x="834" y="799.0" width="3" height="3.5" fill="#DB7093"/>
<rect x="850" y="792.0" width="3" height="7.0" fill="#00BFFF"/>
<rect x="866" y="786.2" width="3" height="12.8" fill="#00BFFF"/>
<rect x="882" y="789.2" width="3" height="9.8" fill="#00BFFF"/>
<rect x="898" y="790.0" width="3" height="9.0" fill="#00BFFF"/>
<rect x="914" y="791.2" width="3" height="7.8" fill="#00BFFF"/>
<rect x="930" y="794.2" width="3" height="4.8" fill="#00BFFF"/>
<rect x="946" y="792.0" width="3" height="7.0" fill="#00BFFF"/>
<rect x="962" y="783.0" width="3" height="16.0" fill="#00BFFF"/>
<rect x="978" y="779.2" width="3" height="19.8" fill="#00BFFF"/>
<rect x="994" y="769.2" width="3" height="29.8" fill="#00BFFF"/>
<rect x="1010" y="764.2" width="3" height="34.8" fill="#00BFFF"/>
<rect x="1026" y="759.2" width="3" height="39.8" fill="#00BFFF"/>
<rect x="1042" y="754.2" width="3" height="44.8" fill="#00BFFF"/>
<rect x="1058" y="751.2" width="3" height="47.8" fill="#00BFFF"/>
<rect x="1074" y="751.2" width="3" height="47.8" fill="#00BFFF"/>
<rect x="1090" y="751.2" width="3" height="47.8" fill="#00BFFF"/>
<rect x="1106" y="755.0" width="3" height="44.0" fill="#00BFFF"/>
<rect x="1122" y="762.0" width="3" height="37.0" fill="#00BFFF"/>
<rect x="1138" y="768.0" width="3" height="31.0" fill="#00BFFF"/>
<rect x="1154" y="770.0" width="3" height="29.0" fill="#FF0000"/>
<rect x="1170" y="772.0" width="3" height="27.0" fill="#00BFFF"/>
<rect x="1186" y="770.0" width="3" height="29.0" fill="#00BFFF"/>
<rect x="1202" y="768.8" width="3" height="30.2" fill="#00BFFF"/>
<rect x="1218" y="770.0" width="3" height="29.0" fill="#00BFFF"/>
<rect x="1234" y="775.0" width="3" height="24.0" fill="#00BFFF"/>
<rect x="1250" y="781.2" width="3" height="17.8" fill="#00BFFF"/>
<rect x="1266" y="788.0" width="3" height="11.0" fill="#00BFFF"/>
<rect x="1282" y="793.0" width="3" height="6.0" fill="#00BFFF"/>
<rect x="1298" y="796.2" width="3" height="2.8" fill="#00BFFF"/>
<rect x="1314" y="798.0" width="3" height="1.0" fill="#00BFFF"/>
<rect x="1330" y="799.0" width="3" height="1.8" fill="#DB7093"/>
<rect x="1346" y="799.0" width="3" height="7.8" fill="#DB7093"/>
<rect x="1362" y="799.0" width="3" height="16.0" fill="#DB7093"/>
<rect x="1378" y="799.0" width="3" height="24.8" fill="#DB7093"/>
<rect x="1394" y="799.0" width="3" height="34.0" fill="#DB7093"/>
<rect x="1410" y="799.0" width="3" height="41.0" fill="#DB7093"/>
<rect x="1426" y="799.0" width="3" height="42.8" fill="#DB7093"/>
<rect x="1442" y="799.0" width="3" height="44.8" fill="#DB7093"/>
<rect x="1458" y="799.0" width="3" height="43.5" fill="#DB7093"/>
<rect x="1474" y="799.0" width="3" height="44.8" fill="#DB7093"/>
<rect x="1490" y="799.0" width="3" height="47.8" fill="#DB7093"/>
<rect x="1506" y="799.0" width="3" height="49.0" fill="#DB7093"/>
<rect x="1522" y="799.0" width="3" height="52.8" fill="#DB7093"/>
<rect x="1538" y="799.0" width="3" height="57.8" fill="#DB7093"/>
<rect x="1554" y="799.0" width="3" height="61.0" fill="#DB7093"/>
<rect x="1570" y="799.0" width="3" height="61.0" fill="#DB7093"/>
<rect x="1586" y="799.0" width="3" height="62.8" fill="#DB7093"/>
<rect x="1602" y="799.0" width="3" height="61.0" fill="#DB7093"/>
<rect x="1618" y="799.0" width="3" height="56.0" fill="#DB7093"/>
<rect x="1634" y="799.0" width="3" height="46.0" fill="#DB7093"/>
<rect x="1650" y="799.0" width="3" height="32.8" fill="#DB7093"/>
<rect x="1666" y="799.0" width="3" height="24.0" fill="#DB7093"/>
<rect x="1682" y="799.0" width="3" height="21.0" fill="#DB7093"/>
<rect x="1698" y="799.0" width="3" height="24.0" fill="#DB7093"/>
<rect x="1714" y="799.0" width="3" height="29.8" fill="#DB7093"/>
<rect x="1730" y="799.0" width="3" height="37.2" fill="#DB7093"/>
<rect x="1746" y="799.0" width="3" height="46.0" fill="#00FF00"/>
<rect x="1762" y="799.0" width="3" height="37.2" fill="#DB7093"/>
<rect x="1778" y="799.0" width="3" height="24.0" fill="#DB7093"/>
<rect x="1794" y="799.0" width="3" height="6.0" fill="#DB7093"/>
<rect x="1810" y="787.0" width="3" height="12.0" fill="#FF0000"/>
<rect x="1826" y="773.0" width="3" height="26.0" fill="#00BFFF"/>
</g>
<polyline points="3.0,778.8 19.0,779.2 35.0,780.5 51.0,781.8 67.0,782.0 83.0,783.0 99.0,783.2 115.0,783.2 131.0,782.5 147.0,780.5 163.0,777.5 179.0,774.2 195.0,770.5 211.0,766.2 227.0,762.5 243.0,758.2 259.0,754.2 275.0,750.0 291.0,747.0 307.0,745.0 323.0,744.2 339.0,743.8 355.0,743.8 371.0,743.8 387.0,745.5 403.0,747.5 419.0,749.2 435.0,751.2 451.0,754.5 467.0,755.5 476.0,756.8 483.0,757.5 499.0,759.5 515.0,760.8 531.0,761.8 547.0,763.0 563.0,764.2 579.0,765.0 588.5,766.8 835.0,766.8 851.0,768.8 867.0,771.2 883.0,772.5 899.0,775.0 915.0,776.2 931.0,778.0 952.0,778.0 963.0,778.0 979.0,778.0 995.0,777.5 1011.0,776.2 1027.0,775.5 1043.0,773.2 1059.0,771.2 1075.0,770.5 1091.0,768.0 1107.0,767.0 1123.0,767.0 1139.0,767.0 1155.0,767.0 1171.0,768.0 1219.0,768.0 1235.0,769.5 1251.0,770.5 1267.0,771.8 1283.0,773.8 1299.0,775.8 1428.0,775.8 1795.0,775.8 1796.0,777.0 1827.0,777.0" fill="none" stroke="#696969" stroke-width="1.6" shape-rendering="crispEdges"/>
<polyline points="3.0,832.0 601.0,832.0 611.0,830.5 627.0,828.0 643.0,826.8 659.0,826.8 675.0,828.8 691.0,828.8 707.0,829.5 723.0,830.8 739.0,830.8 755.0,830.8 771.0,830.5 787.0,830.0 803.0,829.2 819.0,827.0 835.0,825.0 952.0,825.0 1315.0,825.0 1331.0,823.2 1347.0,821.8 1363.0,820.8 1379.0,820.8 1395.0,822.5 1411.0,824.5 1411.0,825.0 1427.0,825.5 1443.0,826.8 1459.0,828.2 1475.0,829.5 1491.0,830.8 1507.0,832.5 1523.0,833.8 1539.0,835.0 1555.0,838.0 1571.0,839.5 1587.0,840.0 1603.0,842.5 1619.0,843.0 1635.0,843.0 1651.0,842.5 1667.0,840.5 1683.0,839.5 1699.0,837.5 1715.0,837.0 1731.0,836.8 1747.0,836.8 1763.0,836.8 1779.0,836.8 1795.0,833.0 1811.0,833.0 1827.0,833.0" fill="none" stroke="#696969" stroke-width="1.6" shape-rendering="crispEdges"/>
</g>
<text x="7.5" y="714.5" font-family="Liberation Sans, Arial, sans-serif" font-size="10.5" fill="#fff" textLength="198.5" lengthAdjust="spacingAndGlyphs">Elliot oscillator ( 5,21) 56.9952 48.4097 -76.2441</text>
<g shape-rendering="crispEdges" fill="#fff">
<rect x="2" y="2" width="1863" height="1"/>
<rect x="2" y="2" width="1" height="868"/>
<rect x="1864" y="2" width="1" height="868"/>
<rect x="2" y="518" width="1863" height="1"/>
<rect x="0" y="519" width="1904" height="2" fill="#000"/>
<rect x="2" y="521" width="1863" height="1"/>
<rect x="2" y="699" width="1863" height="1"/>
<rect x="0" y="700" width="1904" height="1" fill="#000"/>
<rect x="2" y="701" width="1863" height="1"/>
<rect x="2" y="869" width="1863" height="1"/>
<rect x="1865" y="4" width="3" height="1"/>
<rect x="1865" y="37" width="3" height="1"/>
<rect x="1865" y="70" width="3" height="1"/>
<rect x="1865" y="103" width="3" height="1"/>
<rect x="1865" y="136" width="3" height="1"/>
<rect x="1865" y="169" width="3" height="1"/>
<rect x="1865" y="205" width="3" height="1"/>
<rect x="1865" y="238" width="3" height="1"/>
<rect x="1865" y="271" width="3" height="1"/>
<rect x="1865" y="304" width="3" height="1"/>
<rect x="1865" y="337" width="3" height="1"/>
<rect x="1865" y="370" width="3" height="1"/>
<rect x="1865" y="403" width="3" height="1"/>
<rect x="1865" y="439" width="3" height="1"/>
<rect x="1865" y="476" width="3" height="1"/>
<rect x="1865" y="513" width="3" height="1"/>
<rect x="1865" y="799" width="2" height="1"/>
<rect x="3" y="870" width="1" height="3"/>
<rect x="67" y="870" width="1" height="3"/>
<rect x="131" y="870" width="1" height="3"/>
<rect x="195" y="870" width="1" height="3"/>
<rect x="259" y="870" width="1" height="3"/>
<rect x="323" y="870" width="1" height="3"/>
<rect x="387" y="870" width="1" height="3"/>
<rect x="451" y="870" width="1" height="3"/>
<rect x="515" y="870" width="1" height="3"/>
<rect x="579" y="870" width="1" height="3"/>
<rect x="643" y="870" width="1" height="3"/>
<rect x="707" y="870" width="1" height="3"/>
<rect x="771" y="870" width="1" height="3"/>
<rect x="835" y="870" width="1" height="3"/>
<rect x="899" y="870" width="1" height="3"/>
<rect x="963" y="870" width="1" height="3"/>
<rect x="1027" y="870" width="1" height="3"/>
<rect x="1091" y="870" width="1" height="3"/>
<rect x="1155" y="870" width="1" height="3"/>
<rect x="1219" y="870" width="1" height="3"/>
<rect x="1283" y="870" width="1" height="3"/>
<rect x="1347" y="870" width="1" height="3"/>
<rect x="1411" y="870" width="1" height="3"/>
<rect x="1475" y="870" width="1" height="3"/>
<rect x="1539" y="870" width="1" height="3"/>
<rect x="1603" y="870" width="1" height="3"/>
<rect x="1667" y="870" width="1" height="3"/>
<rect x="1731" y="870" width="1" height="3"/>
<rect x="1795" y="870" width="1" height="3"/>
<rect x="1866" y="256" width="33" height="11"/>
</g>
<text x="1871" y="8.1" font-family="Liberation Sans, Arial, sans-serif" font-size="10" fill="#fff" textLength="24" lengthAdjust="spacingAndGlyphs">18039</text>
<text x="1871" y="41.1" font-family="Liberation Sans, Arial, sans-serif" font-size="10" fill="#fff" textLength="24" lengthAdjust="spacingAndGlyphs">17999</text>
<text x="1871" y="74.2" font-family="Liberation Sans, Arial, sans-serif" font-size="10" fill="#fff" textLength="24" lengthAdjust="spacingAndGlyphs">17959</text>
<text x="1871" y="107.1" font-family="Liberation Sans, Arial, sans-serif" font-size="10" fill="#fff" textLength="24" lengthAdjust="spacingAndGlyphs">17919</text>
<text x="1871" y="140.1" font-family="Liberation Sans, Arial, sans-serif" font-size="10" fill="#fff" textLength="24" lengthAdjust="spacingAndGlyphs">17879</text>
<text x="1871" y="173.0" font-family="Liberation Sans, Arial, sans-serif" font-size="10" fill="#fff" textLength="24" lengthAdjust="spacingAndGlyphs">17839</text>
<text x="1871" y="209.0" font-family="Liberation Sans, Arial, sans-serif" font-size="10" fill="#fff" textLength="24" lengthAdjust="spacingAndGlyphs">17794</text>
<text x="1871" y="242.3" font-family="Liberation Sans, Arial, sans-serif" font-size="10" fill="#fff" textLength="24" lengthAdjust="spacingAndGlyphs">17754</text>
<text x="1871" y="275.6" font-family="Liberation Sans, Arial, sans-serif" font-size="10" fill="#fff" textLength="24" lengthAdjust="spacingAndGlyphs">17714</text>
<text x="1871" y="308.3" font-family="Liberation Sans, Arial, sans-serif" font-size="10" fill="#fff" textLength="24" lengthAdjust="spacingAndGlyphs">17674</text>
<text x="1871" y="340.9" font-family="Liberation Sans, Arial, sans-serif" font-size="10" fill="#fff" textLength="24" lengthAdjust="spacingAndGlyphs">17634</text>
<text x="1871" y="373.8" font-family="Liberation Sans, Arial, sans-serif" font-size="10" fill="#fff" textLength="24" lengthAdjust="spacingAndGlyphs">17594</text>
<text x="1871" y="406.9" font-family="Liberation Sans, Arial, sans-serif" font-size="10" fill="#fff" textLength="24" lengthAdjust="spacingAndGlyphs">17554</text>
<text x="1871" y="443.3" font-family="Liberation Sans, Arial, sans-serif" font-size="10" fill="#fff" textLength="24" lengthAdjust="spacingAndGlyphs">17509</text>
<text x="1871" y="479.9" font-family="Liberation Sans, Arial, sans-serif" font-size="10" fill="#fff" textLength="24" lengthAdjust="spacingAndGlyphs">17464</text>
<text x="1871" y="517.2" font-family="Liberation Sans, Arial, sans-serif" font-size="10" fill="#fff" textLength="24" lengthAdjust="spacingAndGlyphs">17419</text>
<text x="1870.5" y="265" font-family="Liberation Sans, Arial, sans-serif" font-size="10" fill="#000" textLength="24.5" lengthAdjust="spacingAndGlyphs">17726</text>
<text x="1868" y="530.9" font-family="Liberation Sans, Arial, sans-serif" font-size="10" fill="#fff" textLength="14.5" lengthAdjust="spacingAndGlyphs">100</text>
<text x="1868" y="579.0" font-family="Liberation Sans, Arial, sans-serif" font-size="10" fill="#fff" textLength="9.7" lengthAdjust="spacingAndGlyphs">70</text>
<text x="1868" y="648.9" font-family="Liberation Sans, Arial, sans-serif" font-size="10" fill="#fff" textLength="9.7" lengthAdjust="spacingAndGlyphs">30</text>
<text x="1868" y="695.9" font-family="Liberation Sans, Arial, sans-serif" font-size="10" fill="#fff" textLength="5" lengthAdjust="spacingAndGlyphs">0</text>
<text x="1868" y="711.8" font-family="Liberation Sans, Arial, sans-serif" font-size="9.5" fill="#fff">212.5655</text>
<text x="1868" y="803.3" font-family="Liberation Sans, Arial, sans-serif" font-size="9.5" fill="#fff" textLength="18">0.00</text>
<text x="1868" y="865.7" font-family="Liberation Sans, Arial, sans-serif" font-size="9.5" fill="#fff">-153.4569</text>
<text x="2.2" y="882.3" font-family="Liberation Sans, Arial, sans-serif" font-size="10" fill="#fff" textLength="54.5" lengthAdjust="spacingAndGlyphs">23 May 2016</text>
<text x="66.2" y="882.3" font-family="Liberation Sans, Arial, sans-serif" font-size="10" fill="#fff" textLength="57.5" lengthAdjust="spacingAndGlyphs">24 May 01:00</text>
<text x="130.2" y="882.3" font-family="Liberation Sans, Arial, sans-serif" font-size="10" fill="#fff" textLength="57.5" lengthAdjust="spacingAndGlyphs">24 May 17:00</text>
<text x="194.2" y="882.3" font-family="Liberation Sans, Arial, sans-serif" font-size="10" fill="#fff" textLength="57.5" lengthAdjust="spacingAndGlyphs">25 May 09:00</text>
<text x="258.2" y="882.3" font-family="Liberation Sans, Arial, sans-serif" font-size="10" fill="#fff" textLength="57.5" lengthAdjust="spacingAndGlyphs">26 May 01:00</text>
<text x="322.2" y="882.3" font-family="Liberation Sans, Arial, sans-serif" font-size="10" fill="#fff" textLength="57.5" lengthAdjust="spacingAndGlyphs">26 May 17:00</text>
<text x="386.2" y="882.3" font-family="Liberation Sans, Arial, sans-serif" font-size="10" fill="#fff" textLength="57.5" lengthAdjust="spacingAndGlyphs">27 May 09:00</text>
<text x="450.2" y="882.3" font-family="Liberation Sans, Arial, sans-serif" font-size="10" fill="#fff" textLength="57.5" lengthAdjust="spacingAndGlyphs">30 May 01:00</text>
<text x="514.2" y="882.3" font-family="Liberation Sans, Arial, sans-serif" font-size="10" fill="#fff" textLength="57.5" lengthAdjust="spacingAndGlyphs">30 May 17:00</text>
<text x="578.2" y="882.3" font-family="Liberation Sans, Arial, sans-serif" font-size="10" fill="#fff" textLength="57.5" lengthAdjust="spacingAndGlyphs">31 May 13:00</text>
<text x="642.2" y="882.3" font-family="Liberation Sans, Arial, sans-serif" font-size="10" fill="#fff" textLength="47" lengthAdjust="spacingAndGlyphs">1 Jun 05:00</text>
<text x="706.2" y="882.3" font-family="Liberation Sans, Arial, sans-serif" font-size="10" fill="#fff" textLength="47" lengthAdjust="spacingAndGlyphs">1 Jun 21:00</text>
<text x="770.2" y="882.3" font-family="Liberation Sans, Arial, sans-serif" font-size="10" fill="#fff" textLength="47" lengthAdjust="spacingAndGlyphs">2 Jun 13:00</text>
<text x="834.2" y="882.3" font-family="Liberation Sans, Arial, sans-serif" font-size="10" fill="#fff" textLength="47" lengthAdjust="spacingAndGlyphs">3 Jun 05:00</text>
<text x="898.2" y="882.3" font-family="Liberation Sans, Arial, sans-serif" font-size="10" fill="#fff" textLength="47" lengthAdjust="spacingAndGlyphs">3 Jun 21:00</text>
<text x="962.2" y="882.3" font-family="Liberation Sans, Arial, sans-serif" font-size="10" fill="#fff" textLength="47" lengthAdjust="spacingAndGlyphs">6 Jun 13:00</text>
<text x="1026.2" y="882.3" font-family="Liberation Sans, Arial, sans-serif" font-size="10" fill="#fff" textLength="47" lengthAdjust="spacingAndGlyphs">7 Jun 05:00</text>
<text x="1090.2" y="882.3" font-family="Liberation Sans, Arial, sans-serif" font-size="10" fill="#fff" textLength="47" lengthAdjust="spacingAndGlyphs">7 Jun 21:00</text>
<text x="1154.2" y="882.3" font-family="Liberation Sans, Arial, sans-serif" font-size="10" fill="#fff" textLength="47" lengthAdjust="spacingAndGlyphs">8 Jun 13:00</text>
<text x="1218.2" y="882.3" font-family="Liberation Sans, Arial, sans-serif" font-size="10" fill="#fff" textLength="47" lengthAdjust="spacingAndGlyphs">9 Jun 05:00</text>
<text x="1282.2" y="882.3" font-family="Liberation Sans, Arial, sans-serif" font-size="10" fill="#fff" textLength="47" lengthAdjust="spacingAndGlyphs">9 Jun 21:00</text>
<text x="1346.2" y="882.3" font-family="Liberation Sans, Arial, sans-serif" font-size="10" fill="#fff" textLength="52" lengthAdjust="spacingAndGlyphs">10 Jun 13:00</text>
<text x="1410.2" y="882.3" font-family="Liberation Sans, Arial, sans-serif" font-size="10" fill="#fff" textLength="52" lengthAdjust="spacingAndGlyphs">13 Jun 05:00</text>
<text x="1474.2" y="882.3" font-family="Liberation Sans, Arial, sans-serif" font-size="10" fill="#fff" textLength="52" lengthAdjust="spacingAndGlyphs">13 Jun 21:00</text>
<text x="1538.2" y="882.3" font-family="Liberation Sans, Arial, sans-serif" font-size="10" fill="#fff" textLength="52" lengthAdjust="spacingAndGlyphs">14 Jun 13:00</text>
<text x="1602.2" y="882.3" font-family="Liberation Sans, Arial, sans-serif" font-size="10" fill="#fff" textLength="52" lengthAdjust="spacingAndGlyphs">15 Jun 05:00</text>
<text x="1666.2" y="882.3" font-family="Liberation Sans, Arial, sans-serif" font-size="10" fill="#fff" textLength="52" lengthAdjust="spacingAndGlyphs">15 Jun 21:00</text>
<text x="1730.2" y="882.3" font-family="Liberation Sans, Arial, sans-serif" font-size="10" fill="#fff" textLength="52" lengthAdjust="spacingAndGlyphs">16 Jun 13:00</text>
<text x="1794.2" y="882.3" font-family="Liberation Sans, Arial, sans-serif" font-size="10" fill="#fff" textLength="52" lengthAdjust="spacingAndGlyphs">17 Jun 05:00</text>
</svg>
</body></html>
